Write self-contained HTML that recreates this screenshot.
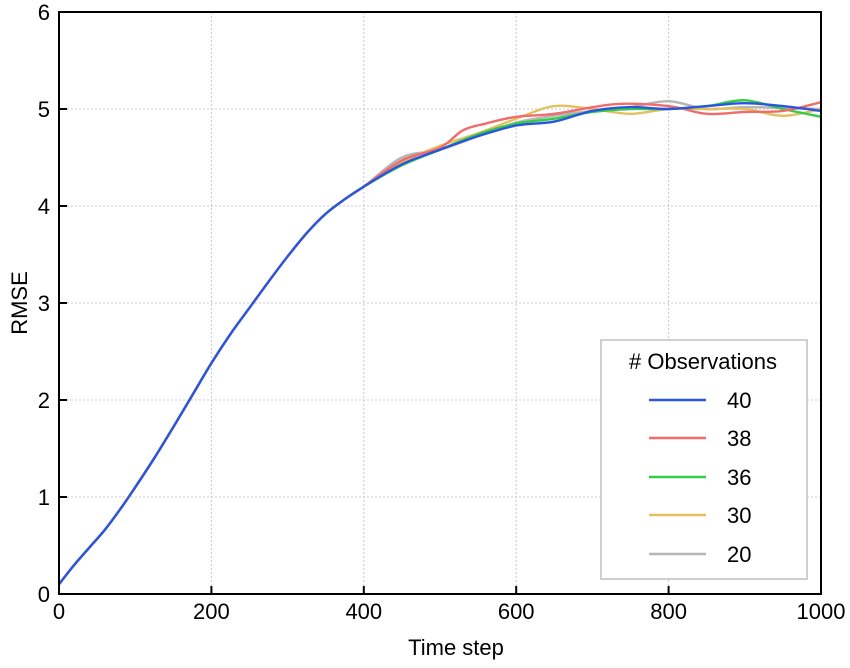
<!DOCTYPE html>
<html><head><meta charset="utf-8"><style>
body{margin:0;background:#fff;}
svg text{font-family:"Liberation Sans",Arial,sans-serif;}
</style></head><body>
<svg id="s" width="850" height="663" xmlns="http://www.w3.org/2000/svg">
<rect width="850" height="663" fill="#fff"/>
<g id="grid" stroke="#c8c8c8" stroke-width="1" stroke-dasharray="2,2"></g>
<g id="lines" fill="none" stroke-width="2.4"></g>
<rect x="59" y="12" width="762" height="582" fill="none" stroke="#000" stroke-width="2"/>
<g id="ticks" stroke="#000" stroke-width="2"></g>
<g id="labels" font-size="22" fill="#000"></g>
<text x="456" y="655" font-size="22" text-anchor="middle">Time step</text>
<text transform="translate(27,303) rotate(-90)" font-size="22" text-anchor="middle">RMSE</text>
<g>
<rect x="601" y="340" width="206" height="239" fill="#fff" stroke="#cfcfcf" stroke-width="2"/>
<text x="703" y="369" font-size="22" text-anchor="middle"># Observations</text>
<line x1="649" x2="706" y1="400" y2="400" stroke="#2a55e0" stroke-width="2.4"/>
<line x1="649" x2="706" y1="438" y2="438" stroke="#f26b6b" stroke-width="2.4"/>
<line x1="649" x2="706" y1="477" y2="477" stroke="#33cc44" stroke-width="2.4"/>
<line x1="649" x2="706" y1="515" y2="515" stroke="#e5c060" stroke-width="2.4"/>
<line x1="649" x2="706" y1="554" y2="554" stroke="#b5b5b5" stroke-width="2.4"/>
<text x="727" y="408" font-size="22">40</text>
<text x="727" y="446" font-size="22">38</text>
<text x="727" y="485" font-size="22">36</text>
<text x="727" y="523" font-size="22">30</text>
<text x="727" y="562" font-size="22">20</text>
</g>
</svg>
<script>
const NS="http://www.w3.org/2000/svg";
const X=t=>59+0.762*t, Y=r=>594-97*r;
const g=document.getElementById('grid'),tk=document.getElementById('ticks'),lb=document.getElementById('labels');
function el(p,tag,a,txt){const e=document.createElementNS(NS,tag);for(const k in a)e.setAttribute(k,a[k]);if(txt!=null)e.textContent=txt;p.appendChild(e);return e;}
for(let t=0;t<=1000;t+=200){const x=X(t);
 if(t>0&&t<1000)el(g,'line',{x1:x,x2:x,y1:12,y2:594});
 el(tk,'line',{x1:x,x2:x,y1:594,y2:586});
 el(lb,'text',{x:x,y:619,'text-anchor':'middle'},t);}
for(let r=0;r<=6;r++){const y=Y(r);
 if(r>0&&r<6)el(g,'line',{x1:59,x2:821,y1:y,y2:y});
 el(tk,'line',{x1:59,x2:67,y1:y,y2:y});
 el(lb,'text',{x:50,y:y+8,'text-anchor':'end'},r);}
const base=[[0,0.1],[20,0.3],[40,0.48],[60,0.66],[80,0.87],[100,1.1],[125,1.4],[150,1.72],[175,2.05],[200,2.38],[225,2.68],[250,2.95],[275,3.22],[300,3.48],[325,3.72],[350,3.92],[375,4.07],[400,4.2]];
function mk(tail){return base.concat(tail);}
const series=[
 ['#b5b5b5',mk([[450,4.5],[500,4.58],[550,4.72],[600,4.86],[650,4.93],[700,4.98],[750,5.02],[800,5.08],[850,5.0],[900,5.02],[950,5.01],[1000,5.0]])],
 ['#e5c060',mk([[450,4.45],[500,4.62],[550,4.75],[600,4.9],[650,5.03],[700,5.0],[750,4.95],[800,5.0],[850,5.0],[900,5.0],[950,4.93],[1000,5.0]])],
 ['#33cc44',mk([[450,4.42],[500,4.58],[550,4.74],[600,4.85],[650,4.9],[700,4.97],[750,5.0],[800,5.0],[850,5.03],[900,5.09],[950,5.0],[1000,4.92]])],
 ['#f26b6b',mk([[450,4.47],[500,4.6],[530,4.78],[560,4.85],[600,4.92],[650,4.95],[730,5.05],[800,5.03],[850,4.95],[900,4.97],[950,4.98],[1000,5.07]])],
 ['#2a55e0',mk([[450,4.43],[500,4.58],[550,4.72],[600,4.83],[650,4.87],[700,4.98],[750,5.02],[800,5.0],[850,5.03],[900,5.06],[950,5.03],[1000,4.98]])]
];
const L=document.getElementById('lines');
for(const [c,pts] of series){
 const P=pts.map(([t,r])=>[X(t),Y(r)]);
 let d=`M${P[0][0]},${P[0][1]}`;
 for(let i=0;i<P.length-1;i++){const p0=P[Math.max(0,i-1)],p1=P[i],p2=P[i+1],p3=P[Math.min(P.length-1,i+2)];
  d+=` C${p1[0]+(p2[0]-p0[0])/6},${p1[1]+(p2[1]-p0[1])/6} ${p2[0]-(p3[0]-p1[0])/6},${p2[1]-(p3[1]-p1[1])/6} ${p2[0]},${p2[1]}`;}
 el(L,'path',{d:d,stroke:c});
}
</script>
</body></html>
